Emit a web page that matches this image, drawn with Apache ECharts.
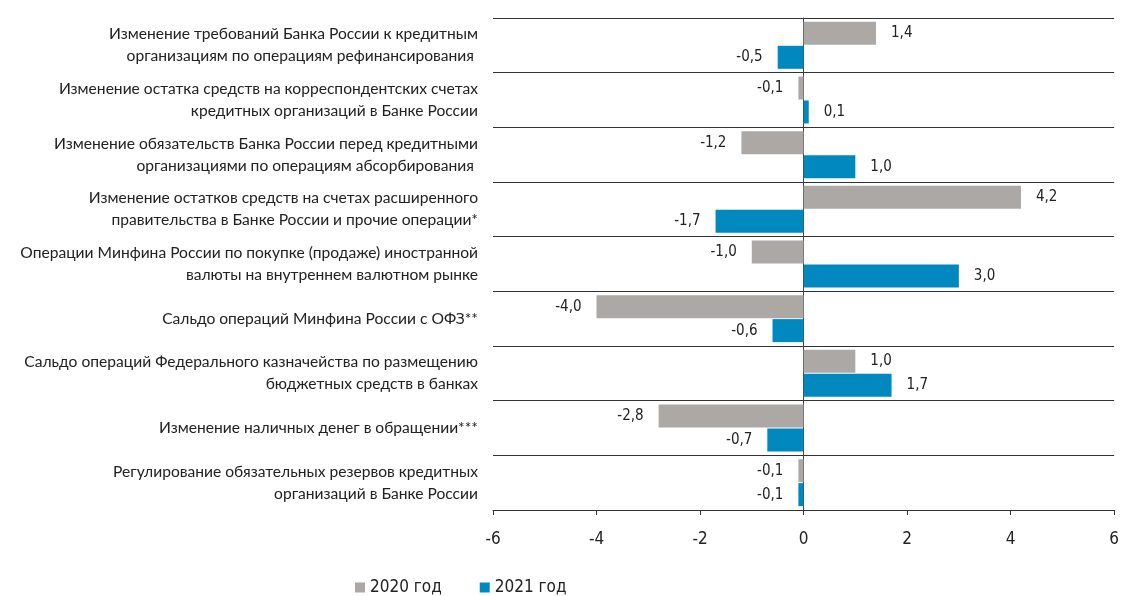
<!DOCTYPE html>
<head>
    <meta charset="utf-8">
    <title>Факторы ликвидности</title>
    <script src="https://cdn.jsdelivr.net/npm/echarts@6/dist/echarts.min.js"></script>
    <style>
        html, body { margin: 0; padding: 0; background: #fff; }
    </style>
</head>
<body>
    <div id="main" style="width:1122px;height:596px"></div>
    <script type="text/javascript">
        var categories = [
            'Изменение требований Банка России к кредитным\nорганизациям по операциям рефинансирования ',
            'Изменение остатка средств на корреспондентских счетах\nкредитных организаций в Банке России',
            'Изменение обязательств Банка России перед кредитными\nорганизациями по операциям абсорбирования ',
            'Изменение остатков средств на счетах расширенного\nправительства в Банке России и прочие операции*',
            'Операции Минфина России по покупке (продаже) иностранной\nвалюты на внутреннем валютном рынке',
            'Сальдо операций Минфина России с ОФЗ**',
            'Сальдо операций Федерального казначейства по размещению\nбюджетных средств в банках',
            'Изменение наличных денег в обращении***',
            'Регулирование обязательных резервов кредитных\nорганизаций в Банке России'
        ];
        var y2020 = [1.4, -0.1, -1.2, 4.2, -1.0, -4.0, 1.0, -2.8, -0.1];
        var y2021 = [-0.5, 0.1, 1.0, -1.7, 3.0, -0.6, 1.7, -0.7, -0.1];
        var xTicks = [-6, -4, -2, 0, 2, 4, 6];

        var narrow = '"Liberation Sans Narrow", "DejaVu Sans Condensed", sans-serif';

        // подписи: справа для положительных, слева для отрицательных
        function withLabels(arr) {
            return arr.map(function (v) {
                return {
                    value: v,
                    label: { position: v < 0 ? 'left' : 'right' }
                };
            });
        }

        var myChart = echarts.init(document.getElementById('main'));
        var option = {
            animation: false,
            grid: { left: 493, right: 5, top: 18, bottom: 86 },
            legend: {
                data: ['2020 год', '2021 год'],
                left: 350,
                top: 574,
                icon: 'rect',
                itemWidth: 10,
                itemHeight: 10,
                itemGap: 38,
                textStyle: { fontFamily: narrow, fontSize: 17, color: '#222' }
            },
            xAxis: {
                type: 'value',
                min: xTicks[0],
                max: xTicks[xTicks.length - 1],
                interval: 2,
                axisLine: { show: true, onZero: false, lineStyle: { color: '#333' } },
                axisTick: { show: true, length: 5, lineStyle: { color: '#333' } },
                splitLine: { show: false },
                axisLabel: { fontFamily: narrow, fontSize: 17, color: '#222', margin: 21 }
            },
            yAxis: {
                type: 'category',
                inverse: true,
                data: categories,
                axisLine: { show: true, onZero: true, lineStyle: { color: '#444' } },
                axisTick: { show: false },
                splitLine: { show: true, lineStyle: { color: '#333', width: 1 } },
                axisLabel: {
                    fontFamily: 'Lato, "Noto Sans", sans-serif',
                    fontSize: 15.6,
                    color: '#222',
                    lineHeight: 22,
                    align: 'right',
                    margin: 15
                }
            },
            series: [
                {
                    name: '2020 год',
                    type: 'bar',
                    data: withLabels(y2020),
                    barWidth: 23,
                    barGap: '4%',
                    itemStyle: { color: '#aca8a6' },
                    label: {
                        show: true, distance: 15,
                        fontFamily: narrow, fontSize: 15, color: '#222',
                        formatter: function (p) { return p.value.toFixed(1).replace('.', ','); }
                    }
                },
                {
                    name: '2021 год',
                    type: 'bar',
                    data: withLabels(y2021),
                    barWidth: 23,
                    itemStyle: { color: '#0088bf' },
                    label: {
                        show: true, distance: 15,
                        fontFamily: narrow, fontSize: 15, color: '#222',
                        formatter: function (p) { return p.value.toFixed(1).replace('.', ','); }
                    }
                }
            ]
        };
        myChart.setOption(option);
    </script>
</body>
